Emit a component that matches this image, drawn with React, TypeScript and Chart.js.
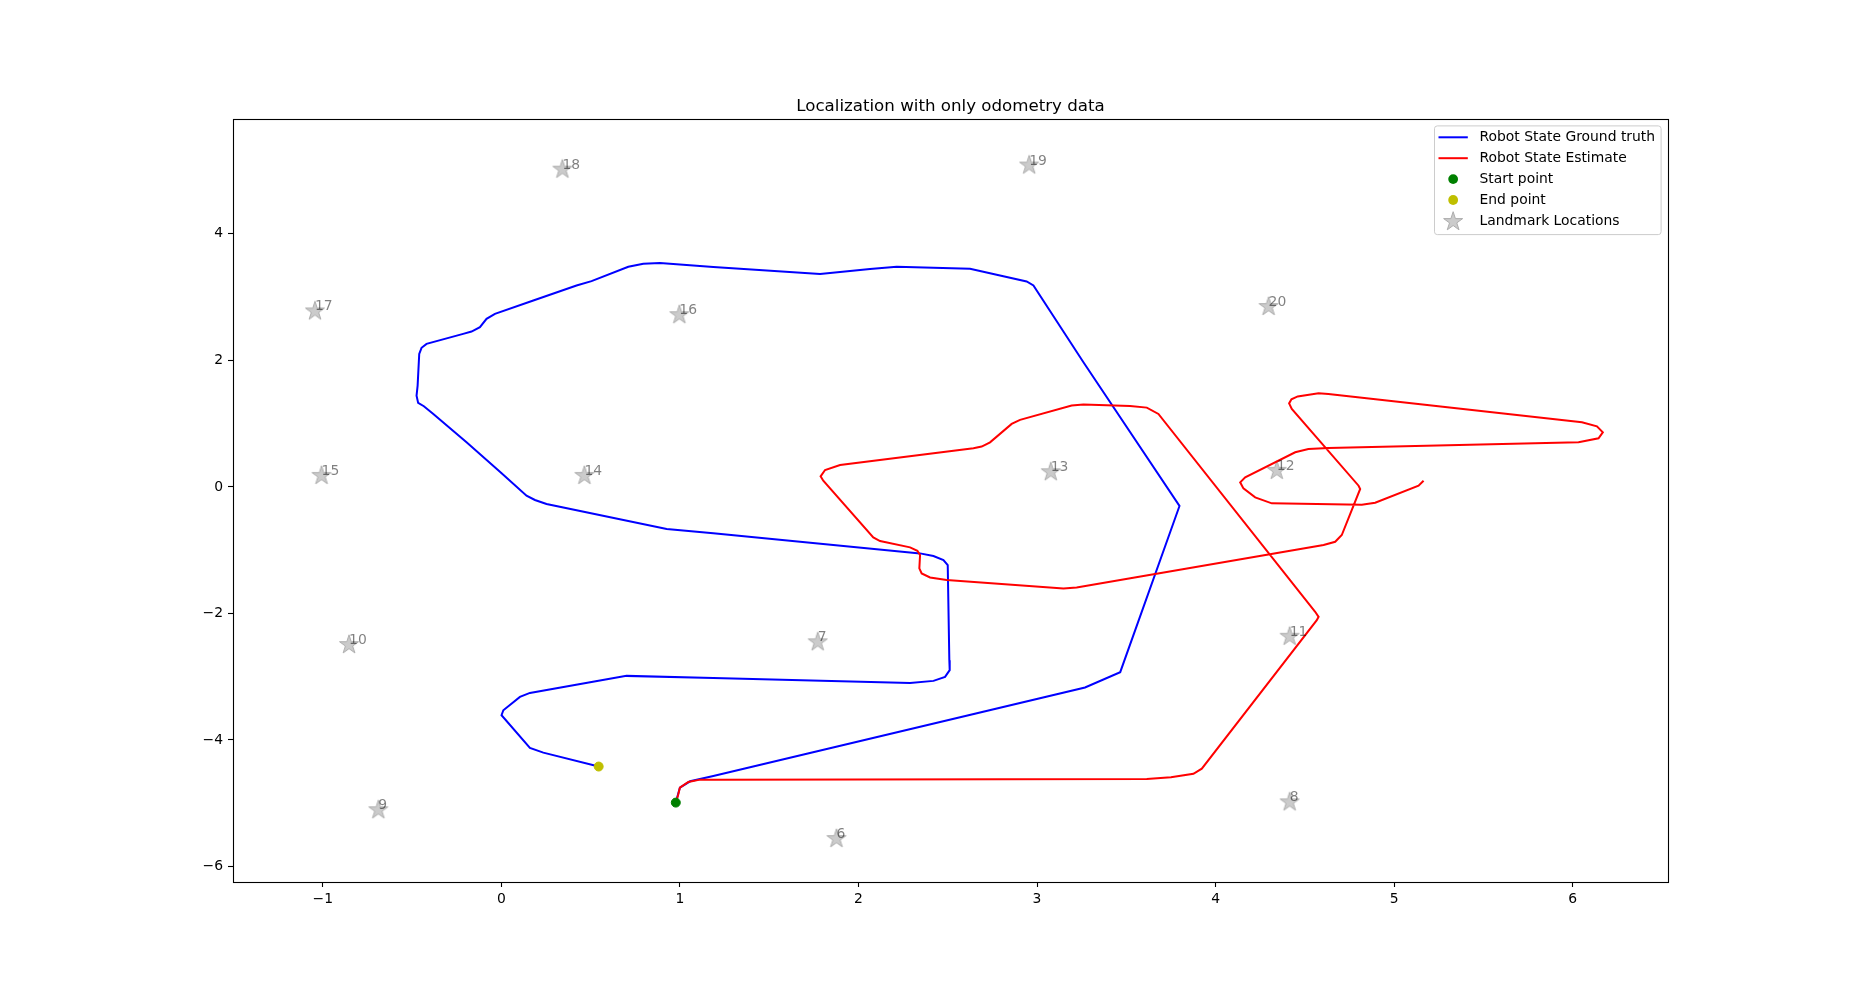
import React, { useEffect, useRef } from "react";
import { Chart, registerables } from "chart.js";

Chart.register(...registerables);

// ---------- data ----------
const xTickValues = [-1, 0, 1, 2, 3, 4, 5, 6];
const xTickLabels = ["−1", "0", "1", "2", "3", "4", "5", "6"];
const yTickValues = [-6, -4, -2, 0, 2, 4];
const yTickLabels = ["−6", "−4", "−2", "0", "2", "4"];

const titleText = "Localization with only odometry data";
const legendLabels = [
  "Robot State Ground truth",
  "Robot State Estimate",
  "Start point",
  "End point",
  "Landmark Locations",
];

const gtX = [0.977, 1.0, 1.057, 1.187, 3.269, 3.466, 3.798, 3.26, 2.98, 2.942, 2.774, 2.625, 2.214, 2.065, 1.785, 1.187, 0.888, 0.795, 0.711, 0.505, 0.421, 0.179, -0.036, -0.083, -0.12, -0.167, -0.214, -0.419, -0.447, -0.46, -0.469, -0.475, -0.466, -0.434, -0.381, -0.195, -0.008, 0.141, 0.188, 0.253, 0.926, 1.187, 2.345, 2.42, 2.476, 2.5, 2.509, 2.511, 2.485, 2.42, 2.289, 1.187, 0.701, 0.16, 0.104, 0.011, 0.001, 0.16, 0.235, 0.545];
const gtY = [-4.99, -4.753, -4.653, -4.569, -3.171, -2.929, -0.302, 1.971, 3.184, 3.247, 3.353, 3.448, 3.479, 3.443, 3.364, 3.474, 3.538, 3.527, 3.48, 3.253, 3.184, 2.946, 2.736, 2.657, 2.525, 2.456, 2.419, 2.261, 2.198, 2.103, 1.601, 1.443, 1.328, 1.275, 1.153, 0.705, 0.241, -0.139, -0.207, -0.271, -0.666, -0.734, -1.051, -1.093, -1.157, -1.236, -2.739, -2.897, -3.003, -3.066, -3.098, -3.019, -2.987, -3.256, -3.319, -3.53, -3.609, -4.126, -4.2, -4.42];

const estX = [0.977, 0.99, 1.0, 1.047, 1.113, 1.187, 3.615, 3.75, 3.876, 3.923, 4.567, 4.577, 4.558, 3.68, 3.615, 3.521, 3.26, 3.194, 2.905, 2.858, 2.737, 2.69, 2.644, 1.897, 1.813, 1.788, 1.803, 2.083, 2.121, 2.289, 2.33, 2.345, 2.341, 2.354, 2.401, 2.494, 3.148, 3.222, 4.605, 4.67, 4.707, 4.81, 4.801, 4.427, 4.412, 4.425, 4.46, 4.577, 4.632, 6.052, 6.136, 6.169, 6.145, 6.033, 4.632, 4.52, 4.446, 4.166, 4.138, 4.156, 4.222, 4.315, 4.819, 4.894, 5.137, 5.165];
const estY = [-4.99, -4.87, -4.753, -4.664, -4.627, -4.627, -4.617, -4.59, -4.535, -4.453, -2.106, -2.054, -1.974, 1.153, 1.253, 1.28, 1.301, 1.285, 1.059, 0.995, 0.705, 0.637, 0.61, 0.347, 0.267, 0.167, 0.098, -0.798, -0.856, -0.956, -1.009, -1.078, -1.288, -1.367, -1.431, -1.473, -1.605, -1.589, -0.919, -0.867, -0.761, -0.033, 0.019, 1.233, 1.32, 1.385, 1.43, 1.48, 1.47, 1.022, 0.958, 0.864, 0.769, 0.705, 0.616, 0.6, 0.547, 0.151, 0.072, -0.023, -0.165, -0.26, -0.281, -0.25, 0.019, 0.098];

const startX = [0.977];
const startY = [-4.99];
const endX = [0.545];
const endY = [-4.42];

const lmIds = [6, 7, 8, 9, 10, 11, 12, 13, 14, 15, 16, 17, 18, 19, 20];
const lmX = [1.877, 1.772, 4.415, -0.689, -0.853, 4.415, 4.343, 3.077, 0.465, -1.007, 0.997, -1.044, 0.342, 2.956, 4.297];
const lmY = [-5.55, -2.44, -4.97, -5.095, -2.484, -2.353, 0.27, 0.248, 0.19, 0.19, 2.73, 2.79, 5.03, 5.095, 2.86];

// ---------- helpers ----------
const FONT = '"DejaVu Sans", sans-serif';
const STAR_FILL = "#cbcbcb";
const STAR_EDGE = "#acacac";

function starPath(ctx: CanvasRenderingContext2D, cx: number, cy: number, R: number) {
  ctx.beginPath();
  for (let i = 0; i < 10; i++) {
    const a = -Math.PI / 2 + (i * Math.PI) / 5;
    const r = i % 2 === 0 ? R : R * 0.382;
    const px = cx + r * Math.cos(a);
    const py = cy + r * Math.sin(a);
    if (i === 0) ctx.moveTo(px, py);
    else ctx.lineTo(px, py);
  }
  ctx.closePath();
}

function drawStar(ctx: CanvasRenderingContext2D, cx: number, cy: number, R: number) {
  starPath(ctx, cx, cy, R);
  ctx.fillStyle = STAR_FILL;
  ctx.fill();
  ctx.strokeStyle = STAR_EDGE;
  ctx.lineWidth = 1;
  ctx.stroke();
}

function makeStarImage(): HTMLCanvasElement {
  const c = document.createElement("canvas");
  c.width = 24;
  c.height = 24;
  const ctx = c.getContext("2d")!;
  drawStar(ctx, 12, 12.8, 10);
  return c;
}

const zip = (xs: number[], ys: number[]) => xs.map((x, i) => ({ x, y: ys[i] }));

const overlayPlugin = {
  id: "overlay",
  afterDatasetsDraw(chart: any) {
    const { ctx, scales } = chart;
    ctx.save();
    ctx.font = `13.9px ${FONT}`;
    ctx.fillStyle = "rgba(0,0,0,0.5)";
    ctx.textAlign = "left";
    ctx.textBaseline = "alphabetic";
    lmIds.forEach((id, i) => {
      ctx.fillText(String(id), scales.x.getPixelForValue(lmX[i]), scales.y.getPixelForValue(lmY[i]));
    });
    ctx.restore();
  },
  afterDraw(chart: any) {
    const { ctx, chartArea } = chart;
    const { left, right, top, bottom } = chartArea;
    ctx.save();
    // frame
    ctx.strokeStyle = "#000";
    ctx.lineWidth = 1.1;
    ctx.strokeRect(Math.round(left) + 0.5, Math.round(top) + 0.5, Math.round(right - left), Math.round(bottom - top));
    // title
    ctx.fillStyle = "#000";
    ctx.font = `16.67px ${FONT}`;
    ctx.textAlign = "center";
    ctx.textBaseline = "alphabetic";
    ctx.fillText(titleText, (left + right) / 2, top - 8.3);
    // legend
    const bw = 226.6;
    const bh = 108.7;
    const bx = right - 6.9 - bw;
    const by = top + 6.9;
    const r = 2.8;
    ctx.beginPath();
    ctx.moveTo(bx + r, by);
    ctx.lineTo(bx + bw - r, by);
    ctx.arcTo(bx + bw, by, bx + bw, by + r, r);
    ctx.lineTo(bx + bw, by + bh - r);
    ctx.arcTo(bx + bw, by + bh, bx + bw - r, by + bh, r);
    ctx.lineTo(bx + r, by + bh);
    ctx.arcTo(bx, by + bh, bx, by + bh - r, r);
    ctx.lineTo(bx, by + r);
    ctx.arcTo(bx, by, bx + r, by, r);
    ctx.closePath();
    ctx.fillStyle = "rgba(255,255,255,0.8)";
    ctx.fill();
    ctx.strokeStyle = "#cccccc";
    ctx.lineWidth = 1;
    ctx.stroke();

    const rowY = (i: number) => by + 11.4 + i * 20.9;
    const hx0 = bx + 4;
    const hx1 = bx + 33.3;
    const hm = (hx0 + hx1) / 2;
    // line handles
    ctx.lineWidth = 2;
    ctx.strokeStyle = "#0000ff";
    ctx.beginPath();
    ctx.moveTo(hx0, rowY(0));
    ctx.lineTo(hx1, rowY(0));
    ctx.stroke();
    ctx.strokeStyle = "#ff0000";
    ctx.beginPath();
    ctx.moveTo(hx0, rowY(1));
    ctx.lineTo(hx1, rowY(1));
    ctx.stroke();
    // markers
    ctx.fillStyle = "#008000";
    ctx.beginPath();
    ctx.arc(hm, rowY(2), 4.9, 0, Math.PI * 2);
    ctx.fill();
    ctx.fillStyle = "#bfbf00";
    ctx.beginPath();
    ctx.arc(hm, rowY(3), 4.9, 0, Math.PI * 2);
    ctx.fill();
    drawStar(ctx, hm, rowY(4) + 0.8, 10);
    // texts
    ctx.fillStyle = "#000";
    ctx.font = `13.9px ${FONT}`;
    ctx.textAlign = "left";
    ctx.textBaseline = "middle";
    legendLabels.forEach((t, i) => ctx.fillText(t, bx + 45, rowY(i)));
    ctx.restore();
  },
};

export default function App() {
  const ref = useRef<HTMLCanvasElement | null>(null);

  useEffect(() => {
    document.body.style.margin = "0";
    const canvas = ref.current;
    if (!canvas) return;
    const starImg = makeStarImage();

    const tickFont = { family: FONT, size: 13.9 };
    const chart = new Chart(canvas, {
      type: "scatter",
      data: {
        datasets: [
          {
            label: "Start point",
            data: zip(startX, startY),
            pointRadius: 4.5,
            pointBackgroundColor: "#008000",
            pointBorderColor: "#008000",
            pointBorderWidth: 1,
            order: 0,
          },
          {
            label: "End point",
            data: zip(endX, endY),
            pointRadius: 4.5,
            pointBackgroundColor: "#bfbf00",
            pointBorderColor: "#bfbf00",
            pointBorderWidth: 1,
            order: 0,
          },
          {
            label: "Robot State Estimate",
            data: zip(estX, estY),
            showLine: true,
            borderColor: "#ff0000",
            borderWidth: 2,
            pointRadius: 0,
            tension: 0,
            order: 1,
          },
          {
            label: "Robot State Ground truth",
            data: zip(gtX, gtY),
            showLine: true,
            borderColor: "#0000ff",
            borderWidth: 2,
            pointRadius: 0,
            tension: 0,
            order: 2,
          },
          {
            label: "Landmark Locations",
            data: zip(lmX, lmY),
            pointStyle: starImg as any,
            pointRadius: 10,
            order: 3,
          },
        ],
      },
      options: {
        responsive: false,
        animation: false,
        devicePixelRatio: 1,
        events: [],
        layout: { padding: { top: 119, right: 185, left: 0, bottom: 0 } },
        plugins: {
          legend: { display: false },
          title: { display: false },
          tooltip: { enabled: false },
        },
        scales: {
          x: {
            type: "linear",
            min: -1.503,
            max: 6.534,
            afterBuildTicks: (s: any) => {
              s.ticks = xTickValues.map((v) => ({ value: v }));
            },
            afterFit: (s: any) => {
              s.height = 109;
            },
            grid: { drawOnChartArea: false, drawTicks: true, tickLength: 5, color: "#000", tickWidth: 1.1 },
            border: { display: false },
            ticks: {
              color: "#000",
              font: tickFont,
              padding: 4,
              maxRotation: 0,
              autoSkip: false,
              callback: (v: any) => {
                const i = xTickValues.indexOf(Number(v));
                return i >= 0 ? xTickLabels[i] : "";
              },
            },
          },
          y: {
            type: "linear",
            min: -6.245,
            max: 5.815,
            afterBuildTicks: (s: any) => {
              s.ticks = yTickValues.map((v) => ({ value: v }));
            },
            afterFit: (s: any) => {
              s.width = 233;
            },
            grid: { drawOnChartArea: false, drawTicks: true, tickLength: 5, color: "#000", tickWidth: 1.1 },
            border: { display: false },
            ticks: {
              color: "#000",
              font: tickFont,
              padding: 5,
              autoSkip: false,
              callback: (v: any) => {
                const i = yTickValues.indexOf(Number(v));
                return i >= 0 ? yTickLabels[i] : "";
              },
            },
          },
        },
      } as any,
      plugins: [overlayPlugin],
    });
    return () => chart.destroy();
  }, []);

  return (
    <div style={{ width: 1853, height: 991, background: "#fff" }}>
      <canvas ref={ref} width={1853} height={991} style={{ display: "block" }} />
    </div>
  );
}
